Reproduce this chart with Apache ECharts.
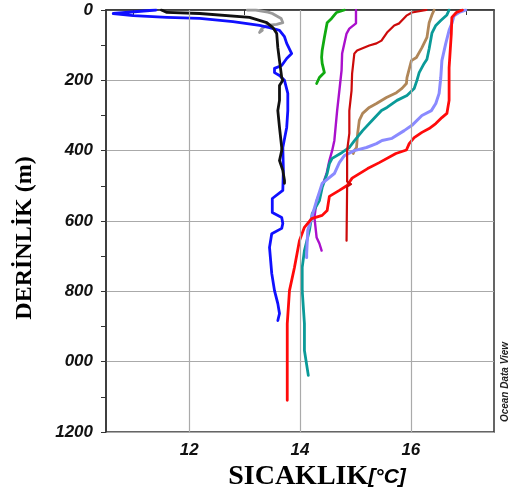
<!DOCTYPE html>
<html>
<head>
<meta charset="utf-8">
<script src="https://cdn.jsdelivr.net/npm/echarts@6/dist/echarts.min.js"></script>
<style>
  html, body { margin: 0; padding: 0; background: #fff; }
  #chart { width: 511px; height: 501px; }
</style>
</head>
<body>
<div id="chart"></div>
<script>
// Temperature profiles: each point is [temperature °C, depth m]
const greyProfile = [[13.05,0],[13.2,0],[13.42,6],[13.5,10],[13.66,24],[13.69,36],[13.58,41],[13.4,44],[13.31,53],[13.27,64],[13.32,58]];
const blueProfile = [[11.4,0],[10.63,10],[10.99,16],[11.6,21],[12.19,24],[12.79,33],[13.27,44],[13.45,50],[13.63,58],[13.72,76],[13.76,95],[13.85,124],[13.76,138],[13.67,158],[13.54,166],[13.54,178],[13.63,186],[13.72,200],[13.78,237],[13.78,286],[13.76,334],[13.69,391],[13.7,456],[13.69,513],[13.5,536],[13.5,576],[13.67,590],[13.69,607],[13.67,621],[13.49,636],[13.45,675],[13.49,749],[13.54,798],[13.6,835],[13.63,863],[13.6,883]];
const blackProfile = [[11.5,0],[11.6,7],[12.19,10],[13.09,21],[13.4,36],[13.51,50],[13.58,67],[13.6,107],[13.63,144],[13.67,192],[13.69,200],[13.63,215],[13.63,257],[13.6,286],[13.63,334],[13.67,391],[13.67,400],[13.63,428],[13.69,456],[13.72,485],[13.72,493]];
const greenProfile = [[14.8,0],[14.66,7],[14.57,24],[14.49,36],[14.48,38],[14.44,78],[14.4,115],[14.39,135],[14.4,152],[14.44,178],[14.35,192],[14.3,209]];
const magentaProfile = [[15.01,0],[15.01,38],[14.89,53],[14.84,67],[14.76,124],[14.75,172],[14.71,229],[14.67,286],[14.62,371],[14.58,400],[14.53,428],[14.48,465],[14.39,505],[14.3,542],[14.26,590],[14.3,647],[14.35,664],[14.39,684]];
const darkRedProfile = [[16.28,0],[16.02,7],[15.92,16],[15.79,38],[15.7,44],[15.57,64],[15.47,87],[15.38,95],[15.25,101],[15.03,115],[14.98,124],[14.94,181],[14.93,229],[14.89,286],[14.89,351],[14.85,400],[14.85,488],[14.92,495],[14.85,502],[14.84,656]];
const brownProfile = [[16.42,0],[16.38,14],[16.33,36],[16.29,78],[16.2,107],[16.1,135],[16.01,144],[15.93,192],[15.92,209],[15.84,223],[15.74,235],[15.56,249],[15.38,266],[15.25,277],[15.13,294],[15.07,314],[15.04,351],[15.02,391],[14.98,400],[14.96,408]];
const tealProfile = [[16.69,0],[16.65,14],[16.54,30],[16.45,44],[16.38,66],[16.33,110],[16.29,140],[16.24,152],[16.15,178],[16.11,200],[16.06,223],[15.93,243],[15.75,257],[15.57,277],[15.47,286],[15.3,314],[15.13,343],[14.98,372],[14.89,391],[14.76,405],[14.58,422],[14.53,437],[14.49,465],[14.4,505],[14.35,542],[14.22,579],[14.17,627],[14.08,684],[14.04,732],[14.04,798],[14.08,892],[14.08,968],[14.15,1039]];
const lightBlueProfile = [[16.99,0],[16.87,7],[16.78,16],[16.74,38],[16.69,58],[16.63,95],[16.56,144],[16.54,192],[16.51,237],[16.45,266],[16.37,286],[16.2,300],[16.02,328],[15.88,343],[15.66,365],[15.48,371],[15.38,380],[15.2,391],[14.98,400],[14.8,414],[14.71,434],[14.62,465],[14.4,493],[14.3,542],[14.21,590],[14.14,627],[14.12,692],[14.12,704]];
const redProfile = [[16.93,0],[16.82,7],[16.74,21],[16.73,67],[16.69,164],[16.69,257],[16.65,294],[16.56,306],[16.45,323],[16.33,337],[16.2,348],[16.06,363],[15.97,380],[15.92,398],[15.73,408],[15.43,434],[15.22,451],[14.94,478],[14.85,499],[14.71,513],[14.53,530],[14.49,570],[14.4,584],[14.21,593],[14.08,618],[13.99,656],[13.9,732],[13.81,798],[13.77,892],[13.77,1110]];

// Axis ticks and labels
const xLabelValues = [12, 14, 16];
const xTickValues = [11, 12, 13, 14, 15, 16, 17];
const xGridValues = [12, 14, 16];
const yTickLabels = ['0', '200', '400', '600', '800', '000', '1200'];

const profiles = [
  { name: 'grey', data: greyProfile, color: '#9a9a9a', width: 2.8 },
  { name: 'green', data: greenProfile, color: '#10aa10', width: 2.8 },
  { name: 'magenta', data: magentaProfile, color: '#aa10cc', width: 2.4 },
  { name: 'brown', data: brownProfile, color: '#b08658', width: 2.8 },
  { name: 'teal', data: tealProfile, color: '#0a9a98', width: 2.8 },
  { name: 'lightblue', data: lightBlueProfile, color: '#8a8aff', width: 3 },
  { name: 'red', data: redProfile, color: '#ff0a0a', width: 2.8 },
  { name: 'darkred', data: darkRedProfile, color: '#cc0a0a', width: 2.2 },
  { name: 'blue', data: blueProfile, color: '#1010ff', width: 2.8 },
  { name: 'black', data: blackProfile, color: '#111111', width: 2.8 }
];

const chart = echarts.init(document.getElementById('chart'), null, { renderer: 'canvas' });

const series = [{
  type: 'line',
  name: 'grid',
  data: [],
  z: 0,
  silent: true,
  markLine: {
    silent: true,
    symbol: ['none', 'none'],
    label: { show: false },
    lineStyle: { color: '#aaaaaa', width: 1.2, type: 'solid' },
    data: xGridValues.map(v => ({ xAxis: v }))
  }
}].concat(profiles.map(p => ({
  type: 'line',
  name: p.name,
  data: p.data,
  showSymbol: false,
  symbol: 'none',
  smooth: false,
  z: 2,
  lineStyle: { color: p.color, width: p.width, join: 'round', cap: 'round' }
})));

chart.setOption({
  animation: false,
  backgroundColor: '#ffffff',
  grid: {
    left: 106, top: 10, width: 388, height: 422,
    show: true, borderColor: '#333333', borderWidth: 1.5
  },
  xAxis: {
    type: 'value',
    min: 10.5, max: 17.5,
    axisLine: { show: true, lineStyle: { color: '#333333', width: 1.5 } },
    axisTick: { show: true, inside: false, length: 5, customValues: xTickValues, lineStyle: { color: '#333333', width: 1 } },
    axisLabel: {
      customValues: xLabelValues,
      margin: 10,
      color: '#111111',
      fontFamily: 'Liberation Sans',
      fontStyle: 'italic',
      fontWeight: 'bold',
      fontSize: 17
    },
    splitLine: { show: false }
  },
  yAxis: {
    type: 'value',
    inverse: true,
    min: 0, max: 1200, interval: 200,
    axisLine: { show: true, lineStyle: { color: '#333333', width: 1.5 } },
    axisTick: { show: true, inside: false, length: 5, lineStyle: { color: '#333333', width: 1 } },
    minorTick: { show: true, splitNumber: 2, length: 5, lineStyle: { color: '#333333', width: 1 } },
    axisLabel: {
      margin: 13,
      color: '#111111',
      fontFamily: 'Liberation Sans',
      fontStyle: 'italic',
      fontWeight: 'bold',
      fontSize: 17,
      formatter: v => yTickLabels[Math.round(v / 200)]
    },
    splitLine: { show: true, lineStyle: { color: '#aaaaaa', width: 1.2 } }
  },
  graphic: [
    {
      type: 'text',
      x: 25, y: 238,
      rotation: Math.PI / 2,
      style: {
        text: 'DERİNLİK (m)',
        font: 'bold 24px "Liberation Serif"',
        fill: '#000000',
        align: 'center',
        verticalAlign: 'middle'
      }
    },
    {
      type: 'text',
      x: 317, y: 477,
      style: {
        text: '{a|SICAKLIK}{b|[°C]}',
        align: 'center',
        verticalAlign: 'middle',
        rich: {
          a: { font: 'bold 28px "Liberation Serif"', fill: '#000000' },
          b: { font: 'italic bold 21px "Liberation Sans"', fill: '#000000' }
        }
      }
    },
    {
      type: 'text',
      x: 505, y: 382,
      rotation: Math.PI / 2,
      style: {
        text: 'Ocean Data View',
        font: 'italic bold 10px "Liberation Sans"',
        fill: '#222222',
        align: 'center',
        verticalAlign: 'middle'
      }
    }
  ],
  series: series
});
</script>
</body>
</html>
